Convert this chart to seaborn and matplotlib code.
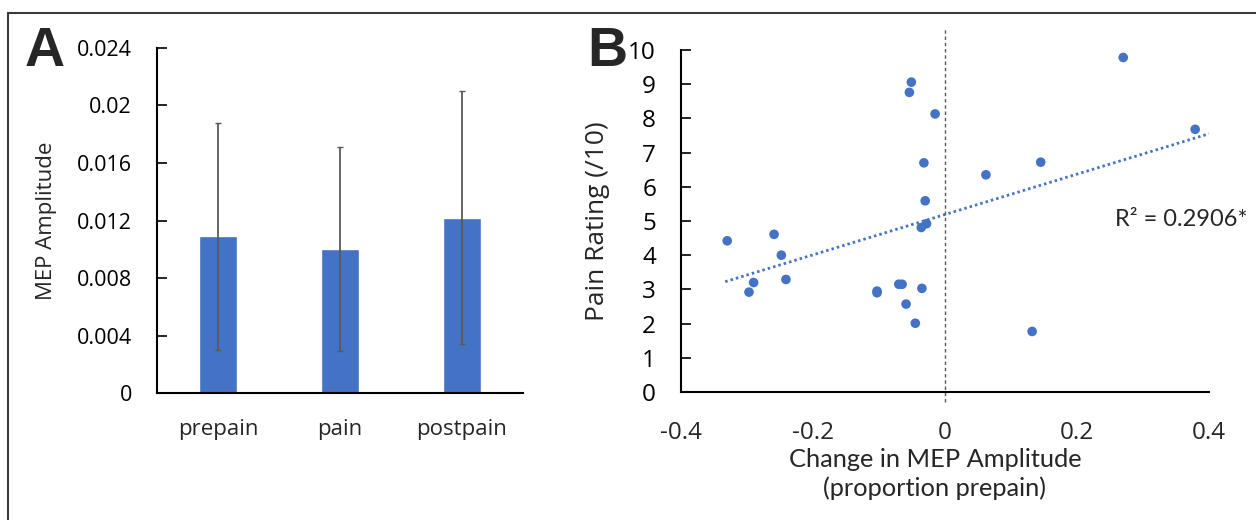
import numpy as np
import pandas as pd
import matplotlib
matplotlib.use("Agg")
import matplotlib.pyplot as plt
import seaborn as sns
from matplotlib.lines import Line2D

# Panel A data: mean MEP amplitude and error bars
conditions = ["prepain", "pain", "postpain"]
mep_means = [0.0109, 0.0100, 0.0122]
mep_err = [0.0079, 0.0071, 0.0088]

# Panel B data: change in MEP amplitude vs pain rating
mep_change = [-0.330, -0.297, -0.290, -0.259, -0.248, -0.241, -0.103, -0.103,
              -0.070, -0.065, -0.059, -0.054, -0.051, -0.045, -0.036, -0.035,
              -0.032, -0.030, -0.028, -0.015, 0.062, 0.132, 0.145, 0.270, 0.379]
pain_rating = [4.42, 2.92, 3.20, 4.61, 4.00, 3.29, 2.95, 2.90,
               3.15, 3.15, 2.57, 8.76, 9.06, 2.01, 4.81, 3.03,
               6.70, 5.59, 4.92, 8.13, 6.35, 1.77, 6.72, 9.78, 7.68]
# trendline as drawn in the figure
trend_slope = 5.9
trend_intercept = 5.19
trend_x = [-0.333, 0.4]
r2_label = "R\u00b2 = 0.2906*"

blue = "#4472C4"
grey = "#595959"

sns.set_theme(style="white")
plt.rcParams["font.family"] = ["Open Sans", "DejaVu Sans"]

fig = plt.figure(figsize=(12.56, 5.2), dpi=100)
axA = fig.add_axes([0.125, 0.2442, 0.2914, 0.6635])
axB = fig.add_axes([0.5422, 0.2462, 0.4204, 0.6577])

# frame around the figure (right and bottom edges cropped off)
fig.add_artist(Line2D([0.0064, 1.0], [0.975, 0.975], color="#3a3a3a", lw=1.5))
fig.add_artist(Line2D([0.0064, 0.0064], [0.0, 0.975], color="#3a3a3a", lw=1.5))

# ---- Panel A ----
dfA = pd.DataFrame({"cond": conditions, "mep": mep_means})
sns.barplot(data=dfA, x="cond", y="mep", color=blue, saturation=1, width=0.31,
            ax=axA, errorbar=None)
axA.errorbar(np.arange(len(conditions)), mep_means, yerr=mep_err, fmt="none",
             ecolor=grey, elinewidth=1.3, capsize=2.5, capthick=1.0)
axA.set_xlim(-0.5, 2.5)
axA.set_ylim(0, 0.024)
axA.set_yticks([0, 0.004, 0.008, 0.012, 0.016, 0.02, 0.024])
axA.set_yticklabels(["0", "0.004", "0.008", "0.012", "0.016", "0.02", "0.024"])
axA.set_xlabel("")
axA.set_ylabel("MEP Amplitude", fontsize=16)
axA.yaxis.set_label_coords(-0.273, 0.5)
axA.tick_params(axis="y", direction="in", length=7, width=1.2, pad=18,
                labelsize=15.5, left=True, colors="black")
axA.tick_params(axis="x", length=0, pad=19, labelsize=16)

# ---- Panel B ----
dfB = pd.DataFrame({"change": mep_change, "pain": pain_rating})
sns.scatterplot(data=dfB, x="change", y="pain", color=blue, s=48,
                edgecolor="none", ax=axB, zorder=3)
tx = np.array(trend_x)
axB.plot(tx, trend_slope * tx + trend_intercept, color=blue, lw=2,
         linestyle=(0, (0.9, 1.1)))
axB.plot([0, 0], [-0.29, 10.64], color=grey, lw=1, linestyle=(0, (2.5, 2)),
         clip_on=False)
axB.set_xlim(-0.4, 0.4)
axB.set_ylim(0, 10)
axB.set_xticks([-0.4, -0.2, 0, 0.2, 0.4])
axB.set_xticklabels(["-0.4", "-0.2", "0", "0.2", "0.4"])
axB.set_yticks(range(11))
axB.set_xlabel("Change in MEP Amplitude\n(proportion prepain)",
               fontsize=18.3, family=["Lato", "DejaVu Sans"], linespacing=1.25)
axB.xaxis.set_label_coords(0.481, -0.165)
axB.set_ylabel("Pain Rating (/10)", fontsize=19)
axB.yaxis.set_label_coords(-0.134, 0.5)
axB.tick_params(axis="y", direction="in", length=7, width=1.2, pad=18,
                labelsize=17.5, left=True, colors="black")
axB.tick_params(axis="x", length=0, pad=21, labelsize=17.5)
axB.text(0.2576, 5.05, r2_label, fontsize=17,
         family=["Lato", "DejaVu Sans"], ha="left", va="center")

for ax in (axA, axB):
    sns.despine(ax=ax)
    for side in ("left", "bottom"):
        ax.spines[side].set_color("black")
        ax.spines[side].set_linewidth(1.5)

fig.text(25 / 1256, 1 - 26 / 520, "A", fontsize=40, fontweight="bold",
         family=["Liberation Sans", "DejaVu Sans"], ha="left", va="top")
fig.text(587 / 1256, 1 - 26 / 520, "B", fontsize=40, fontweight="bold",
         family=["Liberation Sans", "DejaVu Sans"], ha="left", va="top")

fig.savefig("out.png", dpi=100)
